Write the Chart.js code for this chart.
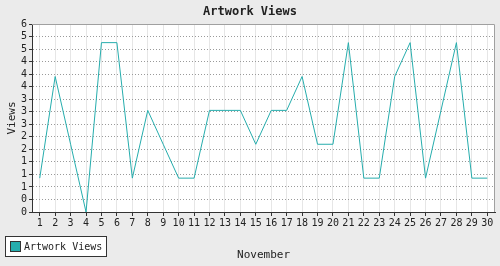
<!DOCTYPE html>
<html>
<head>
<meta charset="utf-8">
<script src="https://cdn.jsdelivr.net/npm/chart.js@4"></script>
<style>
  html, body { margin: 0; padding: 0; background: #ebebeb; }
  canvas { display: block; }
</style>
</head>
<body>
<canvas id="chart" width="500" height="266"></canvas>
<script>
const days = ['1','2','3','4','5','6','7','8','9','10','11','12','13','14','15',
  '16','17','18','19','20','21','22','23','24','25','26','27','28','29','30'];
const views = [1, 4, 2, 0, 5, 5, 1, 3, 2, 1, 1, 3, 3, 3, 2,
  3, 3, 4, 2, 2, 5, 1, 1, 4, 5, 1, 3, 5, 1, 1];
const seriesLabel = 'Artwork Views';
const chartTitle = 'Artwork Views';
const xTitle = 'November';
const yTitle = 'Views';

// y axis: 0 .. 5.55 in 15 equal steps, labels rounded to integers
const yMax = 5.55;
const yStep = 0.37;

const MONO = '"DejaVu Sans Mono", monospace';
const LINE_COLOR = '#26adad';

// white plot area + gray top/right frame
const plotBackground = {
  id: 'plotBackground',
  beforeDraw(chart) {
    const { ctx, chartArea: a } = chart;
    ctx.save();
    ctx.fillStyle = '#ebebeb';
    ctx.fillRect(0, 0, chart.width, chart.height);
    ctx.fillStyle = '#ffffff';
    ctx.fillRect(a.left, a.top, a.right - a.left, a.bottom - a.top);
    ctx.restore();
  },
  afterDraw(chart) {
    const { ctx, chartArea: a } = chart;
    ctx.save();
    ctx.strokeStyle = '#a0a0a0';
    ctx.lineWidth = 1;
    ctx.beginPath();
    ctx.moveTo(a.left, Math.round(a.top) + 0.5);
    ctx.lineTo(Math.round(a.right) - 0.5, Math.round(a.top) + 0.5);
    ctx.lineTo(Math.round(a.right) - 0.5, a.bottom);
    ctx.stroke();
    ctx.restore();
  }
};

// boxed legend in the lower left corner
const boxLegend = {
  id: 'boxLegend',
  afterDraw(chart) {
    const ctx = chart.ctx;
    const ds = chart.data.datasets[0];
    ctx.save();
    ctx.fillStyle = '#ffffff';
    ctx.strokeStyle = '#333333';
    ctx.lineWidth = 1;
    ctx.fillRect(5.5, 236.5, 101, 20);
    ctx.strokeRect(5.5, 236.5, 101, 20);
    ctx.fillStyle = ds.borderColor;
    ctx.fillRect(10.5, 241.5, 10, 10);
    ctx.strokeRect(10.5, 241.5, 10, 10);
    ctx.fillStyle = '#222222';
    ctx.font = '10px ' + MONO;
    ctx.textBaseline = 'middle';
    ctx.fillText(ds.label, 24, 247);
    ctx.restore();
  }
};

new Chart(document.getElementById('chart'), {
  type: 'line',
  data: {
    labels: days,
    datasets: [{
      label: seriesLabel,
      data: views,
      borderColor: LINE_COLOR,
      backgroundColor: LINE_COLOR,
      borderWidth: 1,
      pointRadius: 0,
      tension: 0,
      fill: false,
    }]
  },
  options: {
    responsive: false,
    animation: false,
    layout: {
      padding: { left: 5, right: 5, top: 0, bottom: 4 }
    },
    scales: {
      x: {
        offset: true,
        grid: {
          color: '#e6e6e6',
          tickColor: '#333333',
          tickLength: 4,
        },
        border: { color: '#333333', width: 1 },
        ticks: {
          color: '#222222',
          padding: 1,
          maxRotation: 0,
          autoSkip: false,
          font: { family: MONO, size: 10, lineHeight: '12px' },
        },
        title: {
          display: true,
          text: xTitle,
          color: '#222222',
          padding: { top: 18, bottom: 0 },
          font: { family: MONO, size: 11, lineHeight: '14px' },
        },
      },
      y: {
        min: 0,
        max: yMax,
        afterBuildTicks: (scale) => {
          const ticks = [];
          for (let i = 0; i * yStep <= yMax + 1e-9; i++) ticks.push({ value: i * yStep });
          scale.ticks = ticks;
        },
        grid: {
          color: '#9a9a9a',
          tickColor: '#333333',
          tickLength: 3,
        },
        border: { color: '#333333', width: 1, dash: [1, 2] },
        ticks: {
          color: '#222222',
          padding: 2,
          autoSkip: false,
          font: { family: MONO, size: 10, lineHeight: '12px' },
          callback: (value) => Math.round(value),
        },
        title: {
          display: true,
          text: yTitle,
          color: '#222222',
          padding: { top: 0, bottom: 0 },
          font: { family: MONO, size: 11, lineHeight: '14px' },
        },
      },
    },
    plugins: {
      legend: { display: false },
      tooltip: { enabled: false },
      title: {
        display: true,
        text: chartTitle,
        color: '#222222',
        padding: { top: 5, bottom: 5 },
        font: { family: MONO, size: 12, weight: 'bold', lineHeight: '14px' },
      },
    },
  },
  plugins: [plotBackground, boxLegend],
});
</script>
</body>
</html>
